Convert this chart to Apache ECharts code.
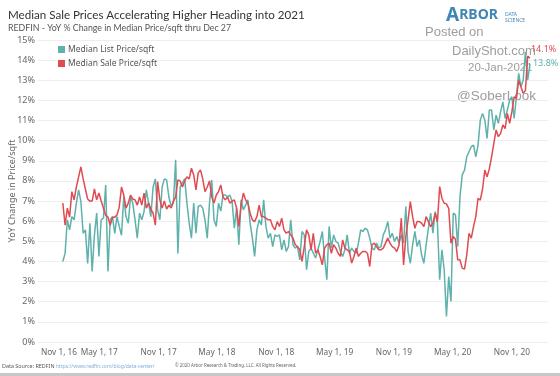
<!DOCTYPE html>
<html>
<head>
<meta charset="utf-8">
<script src="https://cdn.jsdelivr.net/npm/echarts@6/dist/echarts.min.js"></script>
<style>
  html, body { margin: 0; padding: 0; background: #fff; }
  #chart { width: 560px; height: 376px; }
</style>
</head>
<body>
<div id="chart"></div>
<script>
// weekly points, first week ending Jan 8 2017, last Dec 27 2020
var firstWeek = [2017, 0, 8];

// Median List Price/sqft, YoY %
var listPrice = [
  4.0, 4.4, 6.07, 5.57, 6.23, 6.07, 6.9, 7.56, 6.98, 5.4,
  5.57, 3.9, 5.9, 3.5, 5.3, 6.4, 4.25, 6.07, 6.15, 7.8,
  3.5, 6.07, 6.23, 5.4, 6.23, 5.74, 5.3, 7.2, 6.23, 5.9,
  7.2, 6.9, 6.07, 5.16, 6.4, 6.07, 6.48, 7.56, 6.9, 6.23,
  7.7, 8.1, 6.56, 6.07, 7.7, 8.1, 8.05, 7.2, 6.73, 6.9,
  9.05, 4.4, 7.7, 7.9, 8.1, 6.9, 5.9, 5.16, 6.9, 5.4,
  6.73, 6.8, 6.65, 6.07, 5.16, 6.9, 8.05, 6.07, 5.74, 6.9,
  6.5, 7.3, 7.3, 7.2, 7.3, 7.0, 5.65, 6.65, 4.83, 7.06,
  6.56, 6.8, 7.06, 5.9, 5.16, 4.25, 5.57, 6.07, 5.82, 7.06,
  5.74, 5.16, 5.4, 4.74, 5.32, 5.24, 5.32, 4.58, 5.07, 4.5,
  4.74, 6.07, 4.83, 4.66, 4.74, 4.08, 5.49, 5.32, 3.59, 4.5,
  4.66, 4.41, 4.17, 4.58, 4.99, 5.49, 4.17, 3.09, 5.74, 4.66,
  5.32, 4.99, 4.91, 4.5, 4.25, 4.58, 5.32, 4.41, 4.66, 4.5,
  4.41, 4.91, 5.57, 5.49, 5.65, 5.57, 5.16, 4.66, 4.58, 4.91,
  4.66, 4.74, 5.32, 5.57, 5.98, 5.16, 5.4, 4.99, 5.24, 4.91,
  5.32, 4.91, 6.73, 4.49, 3.91, 4.82, 5.49, 4.74, 5.07, 4.33,
  3.91, 4.82, 5.65, 6.4, 5.4, 6.48, 5.9, 3.09, 4.58, 3.58,
  1.27, 3.25, 2.01, 6.4, 6.31, 4.74, 7.22, 8.3, 8.54, 9.2,
  9.45, 9.7, 9.78, 9.2, 9.78, 11.02, 11.35, 11.02, 10.11, 11.52,
  11.52, 10.53, 11.27, 10.86, 11.44, 11.93, 11.1, 11.52, 12.02, 12.18,
  11.1, 12.18, 13.34, 12.68, 13.0, 14.4, 13.0, 13.8
];

// Median Sale Price/sqft, YoY %
var salePrice = [
  6.9, 5.8, 6.65, 6.2, 7.47, 7.06, 7.7, 8.2, 8.7, 8.1,
  7.6, 7.1, 7.0, 7.0, 7.6, 7.06, 7.4, 7.0, 6.65, 6.3,
  6.2, 5.8, 6.2, 6.2, 6.3, 6.7, 7.7, 7.3, 6.65, 6.9,
  7.3, 7.1, 7.06, 6.8, 7.2, 6.8, 7.4, 6.65, 6.9, 6.6,
  6.4, 5.8, 7.97, 7.06, 6.65, 7.0, 6.6, 6.8, 6.65, 7.0,
  7.2, 8.05, 8.0, 7.7, 8.0, 8.2, 8.1, 8.63, 8.3, 7.55,
  8.4, 8.55, 8.1, 7.47, 7.7, 8.0, 7.2, 6.9, 7.3, 7.47,
  7.8, 7.2, 7.06, 7.2, 6.9, 7.0, 7.06, 6.65, 5.74, 6.8,
  7.4, 7.06, 6.9, 6.4, 6.07, 5.98, 6.23, 6.8, 6.23, 6.23,
  6.15, 6.07, 6.07, 5.74, 5.57, 5.98, 5.74, 6.15, 5.57, 5.4,
  5.49, 5.32, 5.16, 4.83, 4.74, 4.58, 4.0, 4.74, 5.57, 5.32,
  4.58, 5.4, 4.41, 4.58, 4.25, 3.83, 4.66, 4.83, 4.91, 4.41,
  4.83, 4.66, 4.41, 4.25, 5.07, 4.66, 4.58, 4.5, 3.92, 4.25,
  4.66, 4.25, 4.41, 4.5, 4.5, 4.41, 3.75, 4.83, 4.91, 4.74,
  4.58, 4.58, 4.66, 4.91, 5.16, 4.91, 4.74, 4.66, 4.49, 4.82,
  6.15, 3.83, 5.24, 6.07, 6.97, 6.23, 5.65, 5.98, 5.98, 5.9,
  5.73, 6.23, 5.98, 5.73, 5.9, 6.4, 5.98, 7.72, 7.14, 6.89,
  6.86, 6.64, 4.91, 5.24, 5.1, 4.08, 4.08, 3.67, 3.62, 4.33,
  5.4, 5.16, 5.73, 6.23, 7.14, 7.05, 7.6, 8.54, 8.2, 8.6,
  9.2, 9.87, 10.53, 10.2, 10.36, 10.78, 10.6, 11.35, 10.86, 11.44,
  12.18, 12.1, 13.0, 12.68, 12.35, 12.5, 14.2, 14.1
];

// x axis tick dates
var tickDates = [
  [2016, 10, 1], [2017, 4, 1], [2017, 10, 1], [2018, 4, 1], [2018, 10, 1],
  [2019, 4, 1], [2019, 10, 1], [2020, 4, 1], [2020, 10, 1]
];
var monthNames = ['Jan','Feb','Mar','Apr','May','Jun','Jul','Aug','Sep','Oct','Nov','Dec'];

var font = 'Noto Sans';
var teal = '#5fb1ab';
var red = '#e04a50';
var grey = 'rgba(140,140,140,0.85)';

function weekDate(i) {
  return new Date(firstWeek[0], firstWeek[1], firstWeek[2] + 7 * i).getTime();
}
function pairs(vals) {
  return vals.map(function (v, i) { return [weekDate(i), v]; });
}
var tickValues = tickDates.map(function (d) { return new Date(d[0], d[1], d[2]).getTime(); });

var myChart = echarts.init(document.getElementById('chart'));

var option = {
  animation: false,
  backgroundColor: '#fff',
  textStyle: { fontFamily: font },
  title: {
    text: 'Median Sale Prices Accelerating Higher Heading into 2021',
    subtext: 'REDFIN - YoY % Change in Median Price/sqft thru Dec 27',
    left: 3,
    top: 4,
    itemGap: 3,
    textStyle: { fontFamily: 'Lato', fontSize: 11.6, fontWeight: 'normal', color: '#333' },
    subtextStyle: { fontFamily: 'Lato', fontSize: 8.8, color: '#555' }
  },
  legend: {
    orient: 'vertical',
    left: 53,
    top: 40,
    itemWidth: 7,
    itemHeight: 7,
    itemGap: 5,
    icon: 'rect',
    textStyle: { fontFamily: font, fontSize: 8.5, color: '#555', padding: [0, 0, 0, -2] },
    data: ['Median List Price/sqft', 'Median Sale Price/sqft']
  },
  grid: { left: 38, right: 12, top: 40, bottom: 34, containLabel: false, outerBoundsMode: 'none' },
  xAxis: {
    type: 'value',
    min: new Date(2016, 9, 23).getTime(),
    max: new Date(2021, 1, 21).getTime(),
    axisLine: { show: false },
    axisTick: { show: false },
    splitLine: { show: false },
    axisLabel: {
      customValues: tickValues,
      showMinLabel: true,
      hideOverlap: false,
      alignMinLabel: 'left',
      margin: 7,
      fontFamily: font,
      fontSize: 8.3,
      color: '#666',
      formatter: function (val) {
        var d = new Date(val);
        return monthNames[d.getMonth()] + ' ' + d.getDate() + ', ' + String(d.getFullYear()).slice(2);
      }
    }
  },
  yAxis: {
    type: 'value',
    min: 0,
    max: 15,
    interval: 1,
    name: 'YoY Change in Price/sqft',
    nameLocation: 'middle',
    nameGap: 21,
    nameMoveOverlap: false,
    nameTextStyle: { fontFamily: font, fontSize: 9, color: '#666' },
    axisLine: { show: false },
    axisTick: { show: false },
    splitLine: { lineStyle: { color: '#eeeeee', width: 1 } },
    axisLabel: { formatter: '{value}%', fontFamily: font, fontSize: 9, color: '#666', margin: 3 }
  },
  series: [
    {
      name: 'Median List Price/sqft',
      type: 'line',
      data: pairs(listPrice),
      showSymbol: false,
      lineStyle: { color: teal, width: 1.5 },
      itemStyle: { color: teal },
      endLabel: {
        show: true,
        distance: 2,
        offset: [1, -1],
        color: teal,
        fontSize: 9,
        fontFamily: font,
        formatter: function (p) { return p.value[1].toFixed(1) + '%'; }
      }
    },
    {
      name: 'Median Sale Price/sqft',
      type: 'line',
      data: pairs(salePrice),
      showSymbol: false,
      lineStyle: { color: red, width: 1.5 },
      itemStyle: { color: red },
      endLabel: {
        show: true,
        distance: 1,
        offset: [0, -9],
        color: red,
        fontSize: 9,
        fontFamily: font,
        formatter: function (p) { return p.value[1].toFixed(1) + '%'; }
      }
    }
  ],
  graphic: [
    {
      type: 'text', left: 446, top: 6,
      style: {
        text: '{a|A}{b|RBOR}',
        rich: {
          a: { fontFamily: font, fontSize: 19, fontWeight: 'bold', fill: '#3f86b5' },
          b: { fontFamily: font, fontSize: 14, fontWeight: 'bold', fill: '#3f86b5' }
        }
      }
    },
    {
      type: 'text', left: 505, top: 12,
      style: { text: 'DATA\nSCIENCE', fontFamily: font, fontSize: 5, lineHeight: 6, fill: '#3f86b5' }
    },
    {
      type: 'text', left: 425, top: 26,
      style: { text: 'Posted on', fontFamily: 'Liberation Sans', fontSize: 13, fill: grey }
    },
    {
      type: 'text', left: 452, top: 45,
      style: { text: 'DailyShot.com', fontFamily: 'Liberation Sans', fontSize: 13, fill: grey }
    },
    {
      type: 'text', left: 468, top: 62,
      style: { text: '20-Jan-2021', fontFamily: 'Liberation Sans', fontSize: 11.5, fill: grey }
    },
    {
      type: 'text', left: 457, top: 89,
      style: { text: '@SoberLook', fontFamily: 'Liberation Sans', fontSize: 13.5, fill: grey }
    },
    {
      type: 'text', left: 2, top: 364,
      style: { text: 'Data Source: REDFIN', fontFamily: font, fontSize: 5.4, fill: '#555' }
    },
    {
      type: 'text', left: 56, top: 364,
      style: { text: 'https://www.redfin.com/blog/data-center/', fontFamily: font, fontSize: 5, fill: '#7fb0d8' }
    },
    {
      type: 'text', left: 175, top: 364,
      style: { text: '\u00a9 2020 Arbor Research & Trading, LLC. All Rights Reserved.', fontFamily: font, fontSize: 4.4, fill: '#666' }
    },
    {
      type: 'rect', left: 0, top: 373,
      shape: { width: 560, height: 3 },
      style: { fill: '#c8c8c8' }
    }
  ]
};

myChart.setOption(option);
</script>
</body>
</html>
